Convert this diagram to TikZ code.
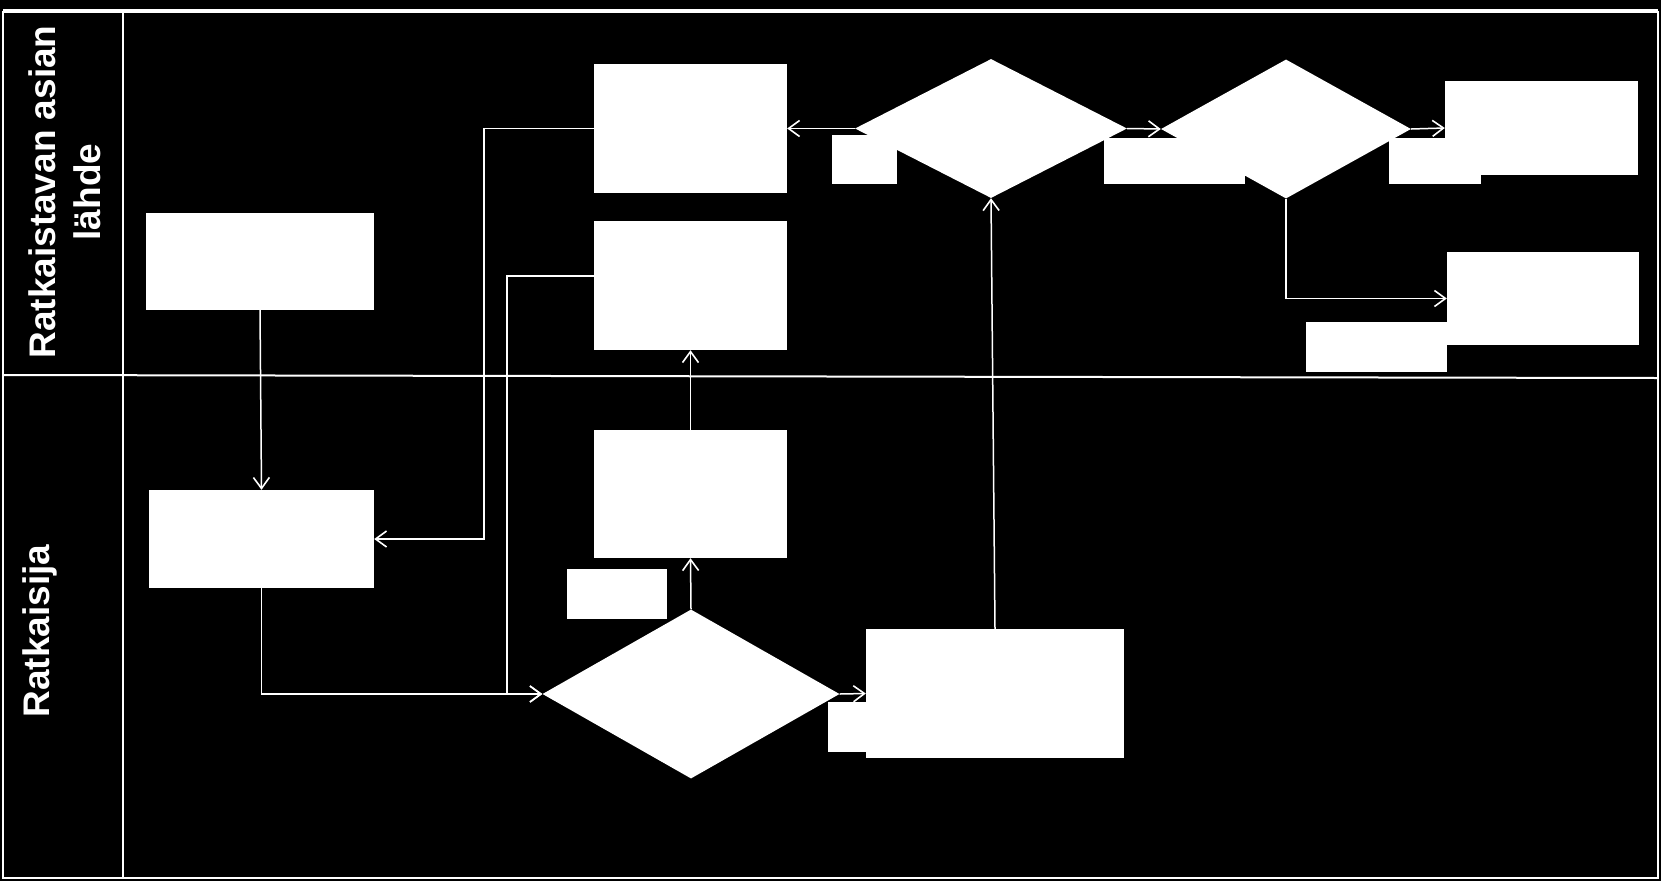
\documentclass[tikz,border=0pt]{standalone}
\usepackage{fontspec}
\setmainfont{Liberation Sans}
\usetikzlibrary{shapes.geometric,arrows.meta}
\tikzset{
  box/.style={rectangle,fill=white,draw=none,inner sep=0pt},
  dec/.style={diamond,fill=white,draw=none,inner sep=0pt},
  conn/.style={draw=white,line width=1.5pt,-{Straight Barb[length=11pt,width=16pt,line width=1.6pt]}},
  frame/.style={draw=white,line width=2pt},
  lane/.style={text=white,font=\fontsize{37}{45}\selectfont\bfseries,rotate=90,align=center,inner sep=0pt}
}
\begin{document}
\begin{tikzpicture}[x=1pt,y=-1pt]
\fill[black] (0,0) rectangle (1661,881);
\useasboundingbox (0,0) rectangle (1661,881);
% frame and lanes
\draw[frame,line width=3.5pt] (3,11) -- (1658,11);
\draw[frame] (3,11) -- (3,878) -- (1658,878) -- (1658,11);
\draw[frame] (123,11) -- (123,878);
\draw[frame] (3,375) -- (1658,378);
\node[lane] (L1) at (65,192) {Ratkaistavan asian\\lähde};
\node[lane] (L2) at (40,631) {Ratkaisija};
% shapes
\node[box,minimum width=228pt,minimum height=97pt] (A) at (260,261.5) {};
\node[box,minimum width=225pt,minimum height=98pt] (B) at (261.5,539) {};
\node[box,minimum width=193pt,minimum height=129pt] (C) at (690.5,128.5) {};
\node[box,minimum width=193pt,minimum height=129pt] (E) at (690.5,285.5) {};
\node[box,minimum width=193pt,minimum height=128pt] (F) at (690.5,494) {};
\node[box,minimum width=100pt,minimum height=50pt] (Fs) at (617,594) {};
\node[dec,minimum width=297pt,minimum height=169pt] (D3) at (691,694) {};
\node[box,minimum width=258pt,minimum height=129pt] (G) at (995,693.5) {};
\node[box,minimum width=72pt,minimum height=50pt] (Gs) at (864,727) {};
\node[dec,minimum width=272pt,minimum height=139pt] (D1) at (991,128.5) {};
\node[box,minimum width=65pt,minimum height=49pt] (D1s) at (864.5,159.5) {};
\node[dec,minimum width=250pt,minimum height=139pt] (D2) at (1286,129) {};
\node[box,minimum width=141pt,minimum height=46pt] (D2s) at (1174.5,161) {};
\node[box,minimum width=92pt,minimum height=46pt] (D2r) at (1435,161) {};
\node[box,minimum width=193pt,minimum height=94pt] (H) at (1541.5,128) {};
\node[box,minimum width=192pt,minimum height=93pt] (I) at (1543,298.5) {};
\node[box,minimum width=141pt,minimum height=50pt] (Is) at (1376.5,347) {};
% connectors
\draw[conn] (A.south) -- (B.north);
\draw[conn] (C.west) -- ++(-110,0) |- (B.east);
\draw[conn] (B.south) |- (D3.west);
\draw[conn] ([yshift=9.5pt]E.west) -- ++(-87,0) |- (D3.west);
\draw[conn] (D3.north) -- (F.south);
\draw[conn] (F.north) -- (E.south);
\draw[conn] (D3.east) -- (G.west);
\draw[conn] (G.north) -- (D1.south);
\draw[conn] (D1.west) -- (C.east);
\draw[conn] (D1.east) -- (D2.west);
\draw[conn] (D2.east) -- (H.west);
\draw[conn] (D2.south) |- (I.west);
\end{tikzpicture}
\end{document}
